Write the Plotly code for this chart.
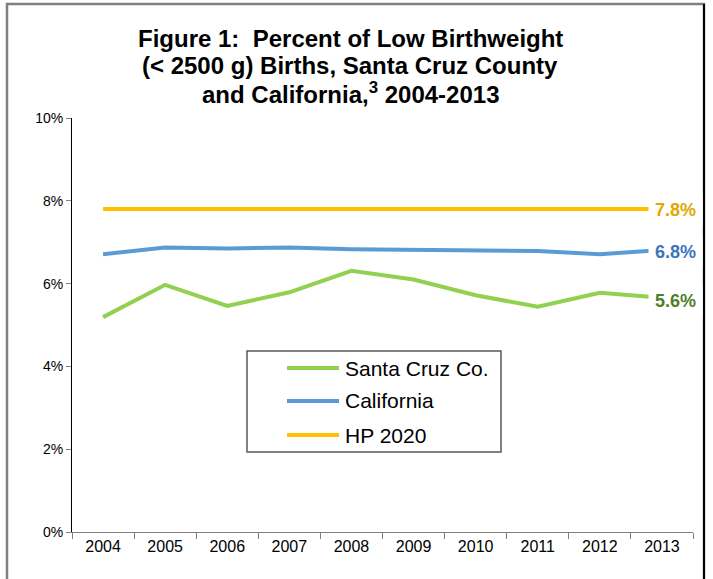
import plotly.graph_objects as go

years = ["2004", "2005", "2006", "2007", "2008", "2009", "2010", "2011", "2012", "2013"]
santa_cruz = [5.19, 5.97, 5.46, 5.79, 6.31, 6.10, 5.72, 5.44, 5.78, 5.66]
california = [6.71, 6.87, 6.85, 6.87, 6.83, 6.81, 6.81, 6.79, 6.71, 6.81]
hp2020 = [7.8] * 10
end_labels = ["5.6%", "6.8%", "7.8%"]
y_ticks = [0, 2, 4, 6, 8, 10]
y_tick_text = ["0%", "2%", "4%", "6%", "8%", "10%"]
title_lines = ["Figure 1:  Percent of Low Birthweight",
               "(< 2500 g) Births, Santa Cruz County",
               "and California,<sup>3</sup> 2004-2013"]

FONT = "Liberation Sans, Arial, sans-serif"
W, H = 713, 579
L, R, T, B = 72, 20, 118, 47
PW, PH = W - L - R, H - T - B


def px(x):
    return (x - L) / PW


def py(y):
    return (H - B - y) / PH


fig = go.Figure()
series = [
    ("Santa Cruz Co.", santa_cruz, "#92D050", "#4F7F2A", end_labels[0], -3),
    ("California", california, "#5B9BD5", "#3A75BD", end_labels[1], -2),
    ("HP 2020", hp2020, "#FFC000", "#E0A800", end_labels[2], -1),
]
legend_rows = [368, 401, 435]
for i, (name, vals, col, lab_col, lab, ys) in enumerate(series):
    fig.add_trace(go.Scatter(
        x=years, y=vals, mode="lines", name=name, showlegend=False,
        line=dict(color=col, width=4),
    ))
    fig.add_annotation(
        xref="paper", yref="y", x=px(648), y=vals[-1],
        text="<b>%s</b>" % lab, showarrow=False,
        xanchor="left", yanchor="middle", yshift=ys,
        bgcolor="white", borderpad=6,
        font=dict(family=FONT, size=18, color=lab_col),
    )
    # legend entry
    yr = legend_rows[i]
    fig.add_shape(type="line", xref="paper", yref="paper",
                  x0=px(287), x1=px(339), y0=py(yr), y1=py(yr),
                  line=dict(color=col, width=4))
    fig.add_annotation(
        xref="paper", yref="paper", x=px(343), y=py(yr),
        text=name, showarrow=False, xanchor="left", yanchor="middle",
        font=dict(family=FONT, size=21, color="black"),
    )

# legend box
fig.add_shape(type="rect", xref="paper", yref="paper",
              x0=px(247), x1=px(501), y0=py(452), y1=py(351),
              line=dict(color="#595959", width=1.5), fillcolor="rgba(0,0,0,0)")

# title lines
for i, t in enumerate(title_lines):
    fig.add_annotation(
        xref="paper", yref="paper", x=px(350), y=py(38 + i * 27.5),
        text="<b>%s</b>" % t, showarrow=False, xanchor="center", yanchor="middle",
        font=dict(family=FONT, size=24, color="black"),
    )

fig.update_layout(
    width=W, height=H,
    margin=dict(l=L, r=R, t=T, b=B),
    paper_bgcolor="white", plot_bgcolor="white",
    showlegend=False,
    xaxis=dict(
        type="category", tickson="boundaries", showgrid=False,
        showline=True, linecolor="#808080", linewidth=1,
        ticks="outside", ticklen=6, tickcolor="#808080",
        tickfont=dict(family=FONT, size=16, color="black"),
        range=[-0.5, 9.5], fixedrange=True,
    ),
    yaxis=dict(
        range=[0, 10], tickvals=y_ticks, ticktext=y_tick_text,
        showgrid=False, zeroline=False,
        showline=True, linecolor="black", linewidth=1,
        ticks="outside", ticklen=5, tickcolor="#808080",
        tickfont=dict(family=FONT, size=14, color="black"),
        fixedrange=True,
    ),
)

# outer frame
fig.add_shape(type="rect", xref="paper", yref="paper",
              x0=px(7), x1=px(704), y0=py(600), y1=py(4),
              line=dict(color="#808080", width=2.5), fillcolor="rgba(0,0,0,0)",
              layer="below")
fig.add_shape(type="line", xref="paper", yref="paper",
              x0=px(704), x1=px(704), y0=py(600), y1=py(4),
              line=dict(color="black", width=2), layer="below")

fig.write_html("out.html", config={"displayModeBar": False},
               post_script="document.body.style.margin='0';")
